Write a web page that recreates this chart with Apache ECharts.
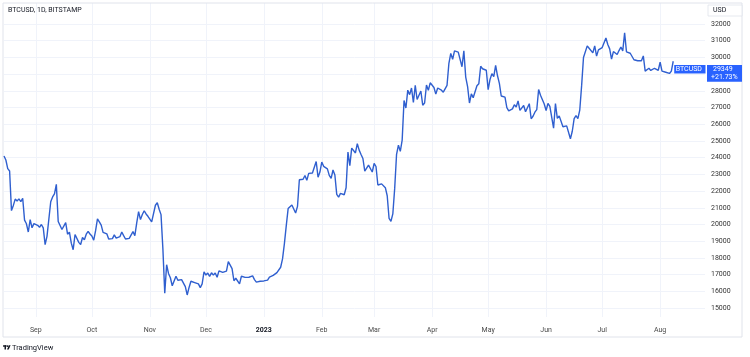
<!DOCTYPE html>
<html><head><meta charset="utf-8">
<script src="https://cdn.jsdelivr.net/npm/echarts@6/dist/echarts.min.js"></script>
<style>html,body{margin:0;padding:0;background:#fff}#c{width:750px;height:357px}</style>
</head><body><div id="c"></div>
<script>
// ---- data (daily closes) ----
const startYear = 2022, startMonth = 8, startDay = 15; // first bar: 2022-08-15
const categoryCount = 376; // bars + empty space to the right edge of the plot
const closeAug2022 = [24100,23860,23340,23200,20830,21140,21520,21400,21530,21370,21570,20260,20040,19550,20290,19800,20050];
const closeSep2022 = [20130,19950,19830,20000,19800,18790,19290,19320,21360,21650,21830,22400,20180,20240,19700,19800,20110,19420,19540,18880,18490,19400,19300,18930,18800,19220,19080,19420,19590,19430];
const closeOct2022 = [19310,19060,19630,20340,20160,19960,19530,19420,19440,19130,19060,19150,19380,19180,19070,19270,19550,19330,19130,19040,19170,19200,19570,19330,20090,20770,20290,20600,20820,20630,20490];
const closeNov2022 = [20480,20160,20210,21150,21300,20910,20590,18540,15880,17590,17070,16810,16330,16620,16900,16660,16680,16700,16700,16280,15780,16230,16600,16600,16520,16460,16440,16220,16440,17170];
const closeDec2022 = [16970,17090,16890,17110,16970,17090,16840,17220,17130,17130,17090,17210,17780,17810,17360,16630,16780,16740,16440,16900,16820,16830,16780,16840,16830,16920,16700,16550,16630,16600,16540];
const closeJan2023 = [16620,16670,16670,16850,16830,16950,16940,17120,17180,17440,17940,18850,19930,20950,20870,21170,21160,20690,21080,22680,22780,22710,22930,22640,23060,23030,23080,23030,23770,22830,23140];
const closeFeb2023 = [23730,23480,23430,23330,22940,22760,23260,22960,21800,21630,21860,21790,21780,22200,24330,23520,24570,24630,24280,24840,24450,24190,23950,23190,23150,23550,23490,23140];
const closeMar2023 = [23650,23470,22360,22350,22430,22410,22200,21720,20360,20190,20630,22160,24200,24750,24380,25050,27420,26970,28040,27770,28170,27300,28330,27480,27490,27990,27140,27270,28350,28030,28480];
const closeApr2023 = [28460,28200,27800,28170,28170,28040,27920,27950,28330,29650,30240,29890,30390,30480,30320,30320,29440,30390,28820,28250,27270,27820,27590,27520,28300,28420,29470,29320,29240,29230];
const closeMay2023 = [28070,28680,29030,28850,29530,28900,28450,27690,27630,27620,26990,26800,26780,26920,27170,27030,27400,26830,26890,27120,26750,26850,27230,26330,26480,26720,26870,28080,27740,27700,27210];
const closeJun2023 = [26820,27250,27070,27120,25760,27240,26350,26500,26480,25850,25940,25900,25920,25130,25580,26330,26510,26340,26840,28310,29990,29890,30690,30550,30470,30270,30690,30080,30450,30470];
const closeJul2023 = [30590,30620,31160,30770,30510,29900,30350,30290,30170,30410,30620,30390,31470,30330,30300,30250,30140,29860,29920,29800,29910,29800,30090,29180,29230,29350,29220,29320,29350,29280,29230];
const closeAug2023 = [29710,29180,29190,29110,29060,29040,29180,29770];

const priceTicks = [15000,16000,17000,18000,19000,20000,21000,22000,23000,24000,25000,26000,27000,28000,29000,30000,31000,32000];
const monthNames = ['2023','Feb','Mar','Apr','May','Jun','Jul','Aug','Sep','Oct','Nov','Dec'];
const titleText = 'BTCUSD, 1D, BITSTAMP';
const symbolText = 'BTCUSD';
const currencyText = 'USD';
const lastPriceText = '29349';
const lastPriceValue = 29349;
const changeText = '+21.73%';
const brandText = 'TradingView';

// ---- build ----
const closes = [].concat(closeAug2022, closeSep2022, closeOct2022, closeNov2022, closeDec2022,
  closeJan2023, closeFeb2023, closeMar2023, closeApr2023, closeMay2023, closeJun2023, closeJul2023, closeAug2023);
const dates = [];
const t0 = Date.UTC(startYear, startMonth - 1, startDay);
for (let i = 0; i < categoryCount; i++) {
  dates.push(new Date(t0 + i * 86400000).toISOString().slice(0, 10));
}
const isMonthStart = (i) => dates[i].slice(8) === '01';
const FONT = 'Roboto, "Liberation Sans", Arial, sans-serif';
const TEXT = '#131722';
const GRID = '#f0f3fa';
const BLUE = '#2962ff';

const chart = echarts.init(document.getElementById('c'), null, {renderer: 'canvas'});
chart.setOption({
  animation: false,
  backgroundColor: '#ffffff',
  textStyle: {fontFamily: FONT},
  grid: {left: 4, right: 45, top: 3, bottom: 40, containLabel: false},
  xAxis: {
    type: 'category', data: dates, boundaryGap: false,
    axisLine: {show: false}, axisTick: {show: false},
    axisLabel: {
      interval: (i) => isMonthStart(i),
      formatter: (v) => {
        const m = parseInt(v.slice(5, 7), 10) - 1;
        return m === 0 ? '{b|' + monthNames[0] + '}' : monthNames[m];
      },
      fontSize: 7, color: '#4a4a4a', margin: 9.5, fontFamily: FONT,
      rich: {b: {fontSize: 7, fontWeight: 'bold', color: TEXT, fontFamily: FONT}}
    },
    splitLine: {show: true, interval: (i) => isMonthStart(i), lineStyle: {color: GRID, width: 1}}
  },
  yAxis: {
    type: 'value', position: 'right', min: 14461, max: 33257, scale: true,
    axisLine: {show: false},
    axisTick: {show: false, customValues: priceTicks},
    axisLabel: {customValues: priceTicks, formatter: (v) => String(v), fontSize: 7, color: '#333', margin: 6, align: 'left', fontFamily: FONT},
    splitLine: {show: true, lineStyle: {color: GRID, width: 1}}
  },
  series: [{
    type: 'line', data: closes, showSymbol: false, symbol: 'none',
    lineStyle: {color: '#2f5fcf', width: 1.4}, silent: true
  }]
});

// annotation boxes placed through the chart's own scales
const py = chart.convertToPixel({yAxisIndex: 0}, lastPriceValue);
const px = chart.convertToPixel({xAxisIndex: 0}, dates[closes.length - 1]);
const boxTop = py - 3.3;
chart.setOption({
  graphic: [
    {type: 'rect', shape: {x: 3, y: 3, width: 739, height: 334}, style: {fill: 'none', stroke: '#e0e3eb', lineWidth: 1}, silent: true, z: 0},
    {type: 'text', x: 8, y: 10, style: {text: titleText, fill: TEXT, font: '7px ' + FONT, textVerticalAlign: 'middle'}, z: 10},
    {type: 'rect', shape: {x: 708, y: 5, width: 34, height: 11}, style: {fill: '#fff', stroke: '#e0e3eb', lineWidth: 0.8}, z: 10},
    {type: 'text', x: 713, y: 10.5, style: {text: currencyText, fill: TEXT, font: '7px ' + FONT, textVerticalAlign: 'middle'}, z: 11},
    {type: 'rect', shape: {x: px + 1, y: boxTop, width: 705.5 - px - 1, height: 8.5}, style: {fill: BLUE}, z: 10},
    {type: 'text', x: px + 2.5, y: boxTop + 4.3, style: {text: symbolText, fill: '#fff', font: '7px ' + FONT, textVerticalAlign: 'middle'}, z: 11},
    {type: 'rect', shape: {x: 707, y: boxTop, width: 35, height: 16.7}, style: {fill: BLUE}, z: 10},
    {type: 'text', x: 713, y: boxTop + 4.3, style: {text: lastPriceText, fill: '#fff', font: '7px ' + FONT, textVerticalAlign: 'middle'}, z: 11},
    {type: 'text', x: 711, y: boxTop + 12.4, style: {text: changeText, fill: '#fff', font: '7px ' + FONT, textVerticalAlign: 'middle'}, z: 11},
    // TradingView mark
    {type: 'rect', shape: {x: 3, y: 345.3, width: 3.6, height: 1.4}, style: {fill: TEXT}, z: 10},
    {type: 'rect', shape: {x: 4.5, y: 345.3, width: 1.5, height: 4.2}, style: {fill: TEXT}, z: 10},
    {type: 'circle', shape: {cx: 7.6, cy: 346.1, r: 0.85}, style: {fill: TEXT}, z: 10},
    {type: 'polygon', shape: {points: [[8.9, 345.3], [10.6, 345.3], [8.7, 349.5], [7.0, 349.5]]}, style: {fill: TEXT}, z: 10},
    {type: 'text', x: 12, y: 347.8, style: {text: brandText, fill: TEXT, font: '7.5px ' + FONT, textVerticalAlign: 'middle'}, z: 10}
  ]
});
</script></body></html>
